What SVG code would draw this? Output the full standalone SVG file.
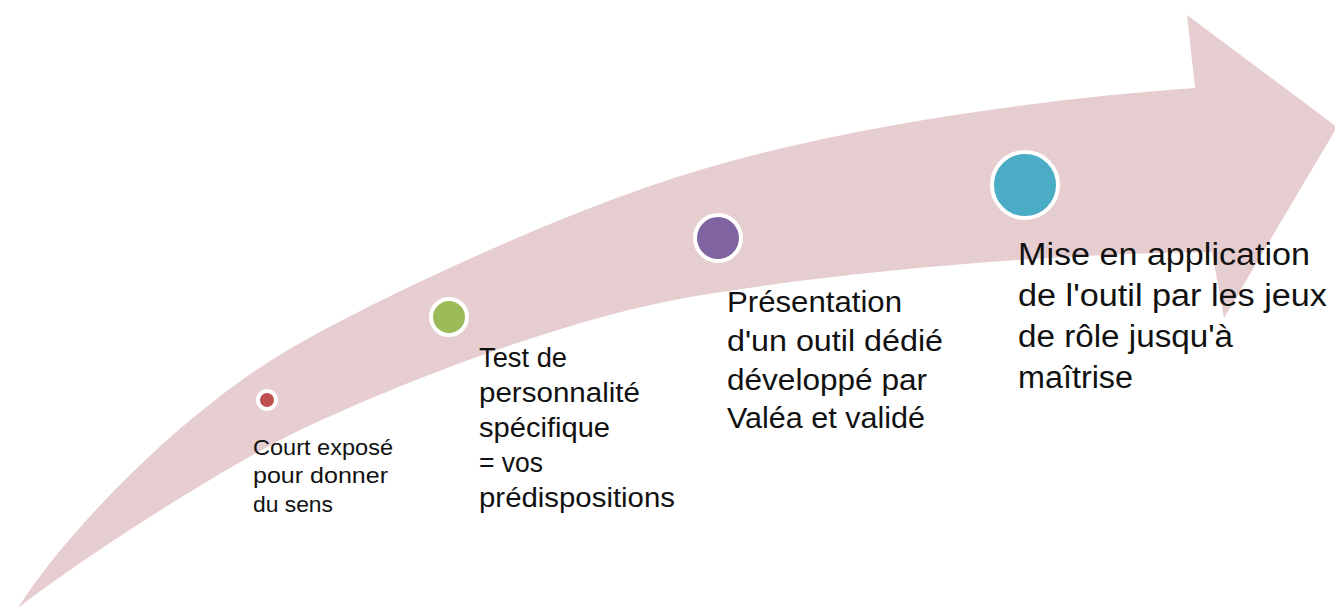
<svg xmlns="http://www.w3.org/2000/svg" width="1335" height="611" viewBox="0 0 1335 611">
<style>
.arrow{fill:#E6CED0;stroke:none}
.dot{stroke:#FFFFFF;stroke-width:4}
.lbl{font-family:"Liberation Sans",Arial,sans-serif;fill:#111111}
</style>
<rect width="1335" height="611" fill="#FFFFFF"/>
<g id="connectors">
<path class="arrow" d="M 18 608 C 60 540 180 410 300 343 C 400 287 580 205 700 170 C 850 125 1050 98 1195 88 L 1187 15 L 1337 127 L 1224 318 L 1212 252 C 1050 254 850 270 690 297 C 570 318 410 378 300 430 C 210 475 80 560 18 608 Z"/>
</g>
<g id="node1">
<circle class="dot" cx="267" cy="400" r="9" fill="#C0504D" stroke-width="3"/>
<text class="lbl" font-size="22">
<tspan x="253" y="455" textLength="140" lengthAdjust="spacingAndGlyphs">Court exposé</tspan>
<tspan x="253" y="483" textLength="135" lengthAdjust="spacingAndGlyphs">pour donner</tspan>
<tspan x="253" y="512" textLength="80" lengthAdjust="spacingAndGlyphs">du sens</tspan>
</text>
</g>
<g id="node2">
<circle class="dot" cx="449" cy="317" r="18" fill="#9BBB59" stroke-width="3.5"/>
<text class="lbl" font-size="27">
<tspan x="479" y="367" textLength="88" lengthAdjust="spacingAndGlyphs">Test de</tspan>
<tspan x="479" y="402" textLength="161" lengthAdjust="spacingAndGlyphs">personnalité</tspan>
<tspan x="479" y="437" textLength="131" lengthAdjust="spacingAndGlyphs">spécifique</tspan>
<tspan x="479" y="472" textLength="64" lengthAdjust="spacingAndGlyphs">= vos</tspan>
<tspan x="479" y="507" textLength="196" lengthAdjust="spacingAndGlyphs">prédispositions</tspan>
</text>
</g>
<g id="node3">
<circle class="dot" cx="718" cy="238" r="23" fill="#8064A2"/>
<text class="lbl" font-size="29">
<tspan x="727" y="312" textLength="175" lengthAdjust="spacingAndGlyphs">Présentation</tspan>
<tspan x="727" y="351" textLength="216" lengthAdjust="spacingAndGlyphs">d'un outil dédié</tspan>
<tspan x="727" y="390" textLength="200" lengthAdjust="spacingAndGlyphs">développé par</tspan>
<tspan x="727" y="428" textLength="198" lengthAdjust="spacingAndGlyphs">Valéa et validé</tspan>
</text>
</g>
<g id="node4">
<circle class="dot" cx="1025" cy="185" r="33" fill="#4BACC6"/>
<text class="lbl" font-size="31">
<tspan x="1018" y="265" textLength="292" lengthAdjust="spacingAndGlyphs">Mise en application</tspan>
<tspan x="1018" y="306" textLength="309" lengthAdjust="spacingAndGlyphs">de l'outil par les jeux</tspan>
<tspan x="1018" y="347" textLength="215" lengthAdjust="spacingAndGlyphs">de rôle jusqu'à</tspan>
<tspan x="1018" y="388" textLength="115" lengthAdjust="spacingAndGlyphs">maîtrise</tspan>
</text>
</g>
</svg>
